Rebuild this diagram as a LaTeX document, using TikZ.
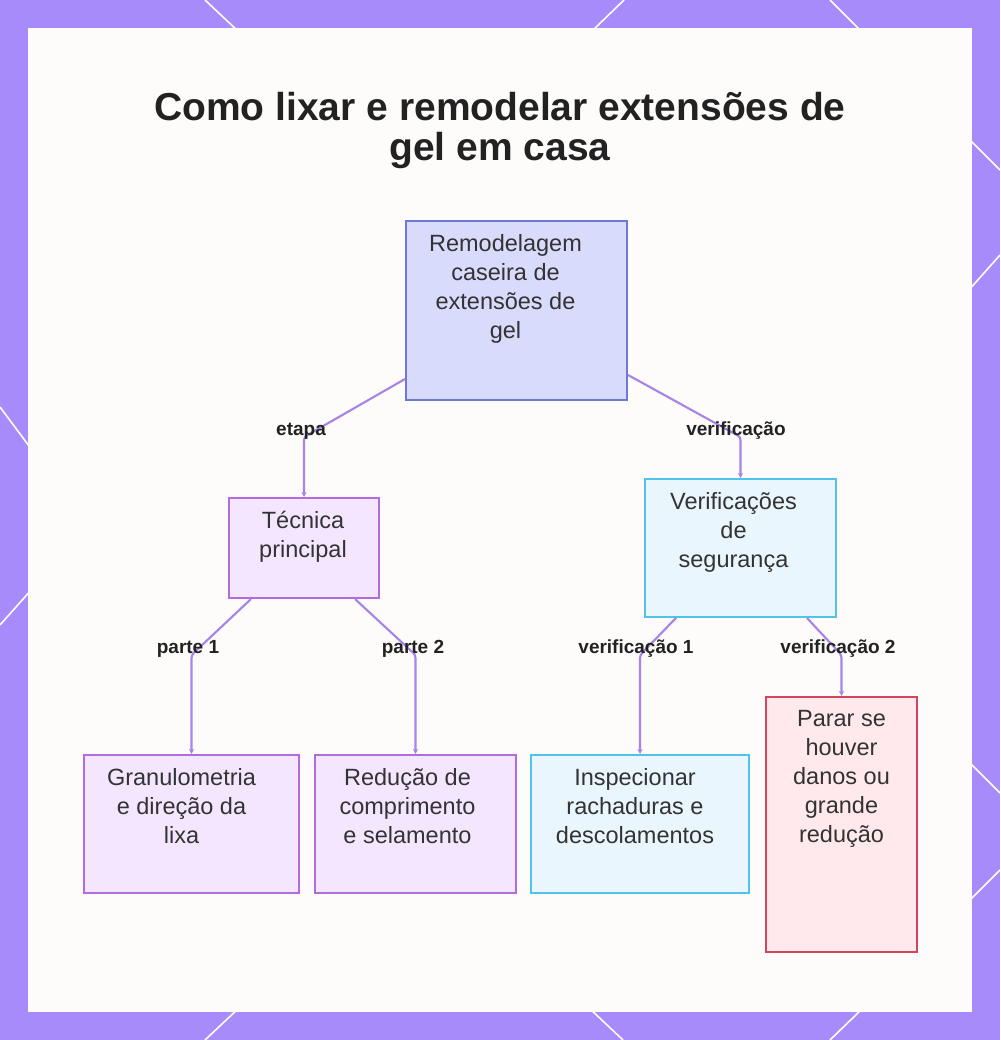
\documentclass[tikz,border=0pt]{standalone}
\usepackage{fontspec}
\setmainfont{Liberation Sans}
\usetikzlibrary{arrows.meta,calc}

\definecolor{framec}{HTML}{A78BFA}
\definecolor{panelc}{HTML}{FDFCFB}
\definecolor{titlec}{HTML}{222222}
\definecolor{textc}{HTML}{333333}
\definecolor{linkc}{HTML}{A783E8}
\definecolor{rootfill}{HTML}{D8DBFC}
\definecolor{rootline}{HTML}{6C7AD4}
\definecolor{purpfill}{HTML}{F3E6FE}
\definecolor{purpline}{HTML}{B36BE0}
\definecolor{cyanfill}{HTML}{EAF6FD}
\definecolor{cyanline}{HTML}{52C3E8}
\definecolor{redfill}{HTML}{FFE9EC}
\definecolor{redline}{HTML}{D2455A}

\begin{document}
\begin{tikzpicture}[x=1pt, y=-1pt,
  box/.style={anchor=north west, inner sep=0, line width=2pt},
  rootbox/.style={box, draw=rootline, fill=rootfill},
  purpbox/.style={box, draw=purpline, fill=purpfill},
  cyanbox/.style={box, draw=cyanline, fill=cyanfill},
  redbox/.style={box, draw=redline, fill=redfill},
  boxtext/.style={anchor=north, align=center, inner sep=0, text=textc,
    font=\fontsize{23.5}{29}\selectfont, execute at begin node={\rule{0pt}{24pt}}},
  edgetext/.style={anchor=base, text=titlec, inner sep=0, font=\bfseries\fontsize{19}{22}\selectfont},
  link/.style={draw=linkc, line width=2.1pt, rounded corners=3pt, -{Stealth[length=5pt, width=5pt]}}]
\useasboundingbox (0,0) rectangle (1000,1040);
% frame and panel
\fill[framec] (0,0) rectangle (1000,1040);
\foreach \xa/\ya/\xb/\yb in {205/0/240/33, 624/0/590/33, 830/0/863/33,
    240/1007/205/1040, 588/1007/623/1040, 864/1007/830/1040,
    0/407/32/450, 32/589/0/625,
    968/138/1000/170, 1000/255/968/291, 968/761/1000/793, 1000/870/968/902}
  \draw[white, line width=1.6pt] (\xa,\ya) -- (\xb,\yb);
\fill[panelc] (28,28) rectangle (972,1012);
% title
\node[anchor=north, align=center, inner sep=0, text=titlec, font=\bfseries\fontsize{39}{40}\selectfont] (title) at (500,90) {\rule{0pt}{30pt}Como lixar e remodelar extensões de\\gel em casa};
% boxes
\node[rootbox, minimum width=221pt, minimum height=179pt, label={[boxtext, xshift=-11pt, yshift=-14pt]north:{Remodelagem\\caseira de\\extensões de\\gel}}] (root) at (405,220) {};
\node[purpbox, minimum width=150pt, minimum height=100pt, label={[boxtext, xshift=-1pt, yshift=-14pt]north:{Técnica\\principal}}] (tech) at (228,497) {};
\node[cyanbox, minimum width=191pt, minimum height=138pt, label={[boxtext, xshift=-7pt, yshift=-14pt]north:{Verificações\\de\\segurança}}] (verif) at (644,478) {};
\node[purpbox, minimum width=215pt, minimum height=138pt, label={[boxtext, xshift=-10pt, yshift=-14pt]north:{Granulometria\\e direção da\\lixa}}] (gran) at (83,754) {};
\node[purpbox, minimum width=201pt, minimum height=138pt, label={[boxtext, xshift=-8pt, yshift=-14pt]north:{Redução de\\comprimento\\e selamento}}] (reduc) at (314,754) {};
\node[cyanbox, minimum width=218pt, minimum height=138pt, label={[boxtext, xshift=-5pt, yshift=-14pt]north:{Inspecionar\\rachaduras e\\descolamentos}}] (insp) at (530,754) {};
\node[redbox, minimum width=151pt, minimum height=255pt, label={[boxtext, yshift=-14pt]north:{Parar se\\houver\\danos ou\\grande\\redução}}] (parar) at (765,696) {};
% label spots (baselines)
\coordinate (c1) at (301,435);
\coordinate (c2) at (736,435);
\coordinate (c3) at (188,653);
\coordinate (c4) at (413,653);
\coordinate (c5) at (636,653);
\coordinate (c6) at (838,653);
% connectors
\draw[link] ([yshift=22pt]root.south west) -- ($(tech.north |- c1)+(0,2)$) -- (tech.north);
\draw[link] ([yshift=26pt]root.south east) -- ($(verif.north |- c2)+(0,2)$) -- (verif.north);
\draw[link] ([xshift=23pt]tech.south west) -- ($(gran.north |- c3)+(0,2)$) -- (gran.north);
\draw[link] ([xshift=-25pt]tech.south east) -- ($(reduc.north |- c4)+(0,2)$) -- (reduc.north);
\draw[link] ([xshift=32pt]verif.south west) -- ($(insp.north |- c5)+(0,2)$) -- (insp.north);
\draw[link] ([xshift=-30pt]verif.south east) -- ($(parar.north |- c6)+(0,2)$) -- (parar.north);
% connector labels
\node[edgetext] (l1) at (c1) {etapa};
\node[edgetext] (l2) at (c2) {verificação};
\node[edgetext] (l3) at (c3) {parte 1};
\node[edgetext] (l4) at (c4) {parte 2};
\node[edgetext] (l5) at (c5) {verificação 1};
\node[edgetext] (l6) at (c6) {verificação 2};
\end{tikzpicture}
\end{document}
